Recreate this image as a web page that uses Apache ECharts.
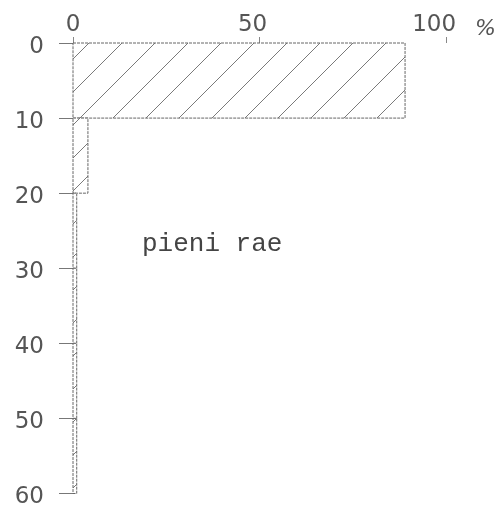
<!DOCTYPE html>
<html><head><meta charset="utf-8">
<script src="https://cdn.jsdelivr.net/npm/echarts@6/dist/echarts.min.js"></script>
<style>html,body{margin:0;padding:0;background:#fff}#c{width:499px;height:509px}</style>
</head><body><div id="c"></div>
<script>
const depthTop = [0, 10, 20, 30, 40, 50];
const depthBottom = [10, 20, 30, 40, 50, 60];
const percent = [89, 4, 1, 1, 1, 1];
const xTicks = [0, 50, 100];
const yTicks = [0, 10, 20, 30, 40, 50, 60];
const label = 'pieni rae';

const pc = document.createElement('canvas');
pc.width = 33; pc.height = 33;
const g = pc.getContext('2d');
g.fillStyle = '#fff'; g.fillRect(0,0,33,33);
g.strokeStyle = '#7a7a7a'; g.lineWidth = 1;
g.beginPath();
g.moveTo(-1, 34); g.lineTo(34, -1);
g.moveTo(-1, 1); g.lineTo(1, -1);
g.moveTo(32, 34); g.lineTo(34, 32);
g.stroke();

const data = depthTop.map((t, i) => [t, depthBottom[i], percent[i]]);
const chart = echarts.init(document.getElementById('c'));
const axisFont = {fontFamily: 'DejaVu Sans', fontSize: 23, color: '#555'};
chart.setOption({
  animation: false,
  grid: {left: 73, top: 43, right: 50, bottom: 7},
  xAxis: {
    type: 'value', position: 'top', min: 0, max: 100, interval: 50,
    name: '%', nameLocation: 'end', nameGap: 29,
    nameTextStyle: {fontFamily: 'DejaVu Sans', fontSize: 22, color: '#555', fontStyle: 'italic', verticalAlign: 'bottom', padding: [0,0,3,0]},
    axisLine: {show: false},
    axisTick: {show: true, length: 6, lineStyle: {color: '#888'}},
    axisLabel: Object.assign({margin: 6, formatter: v => v === 100 ? '{a|100}' : v === 50 ? '{b|50}' : String(v),
      rich: {a: {fontFamily: 'DejaVu Sans', fontSize: 23, color: '#555', padding: [0, 24, 0, 0]},
             b: {fontFamily: 'DejaVu Sans', fontSize: 23, color: '#555', padding: [0, 14, 0, 0]}}}, axisFont),
    splitLine: {show: false}
  },
  yAxis: {
    type: 'value', inverse: true, min: 0, max: 60, interval: 10,
    axisLine: {show: true, lineStyle: {color: '#777', type: [3, 1], width: 1}},
    axisTick: {show: true, length: 14, lineStyle: {color: '#777'}},
    axisLabel: Object.assign({margin: 29, formatter: v => '{n|' + v + '}',
      rich: {n: {fontFamily: 'DejaVu Sans', fontSize: 23, color: '#555', padding: [8, 0, 0, 0]}}}, axisFont),
    splitLine: {show: false}
  },
  series: [{
    type: 'custom',
    data: data,
    encode: {x: 2, y: [0, 1]},
    renderItem: function (params, api) {
      const tl = api.coord([0, api.value(0)]);
      const br = api.coord([api.value(2), api.value(1)]);
      return {
        type: 'rect',
        shape: {x: tl[0], y: tl[1], width: br[0] - tl[0], height: br[1] - tl[1]},
        style: {fill: {image: pc, repeat: 'repeat'}, stroke: '#666', lineWidth: 1, lineDash: [3, 1]}
      };
    }
  }],
  graphic: [{
    type: 'text', left: 142, top: 231,
    style: {text: label, font: '26px "Liberation Mono"', fill: '#444'}
  }]
});
</script></body></html>
